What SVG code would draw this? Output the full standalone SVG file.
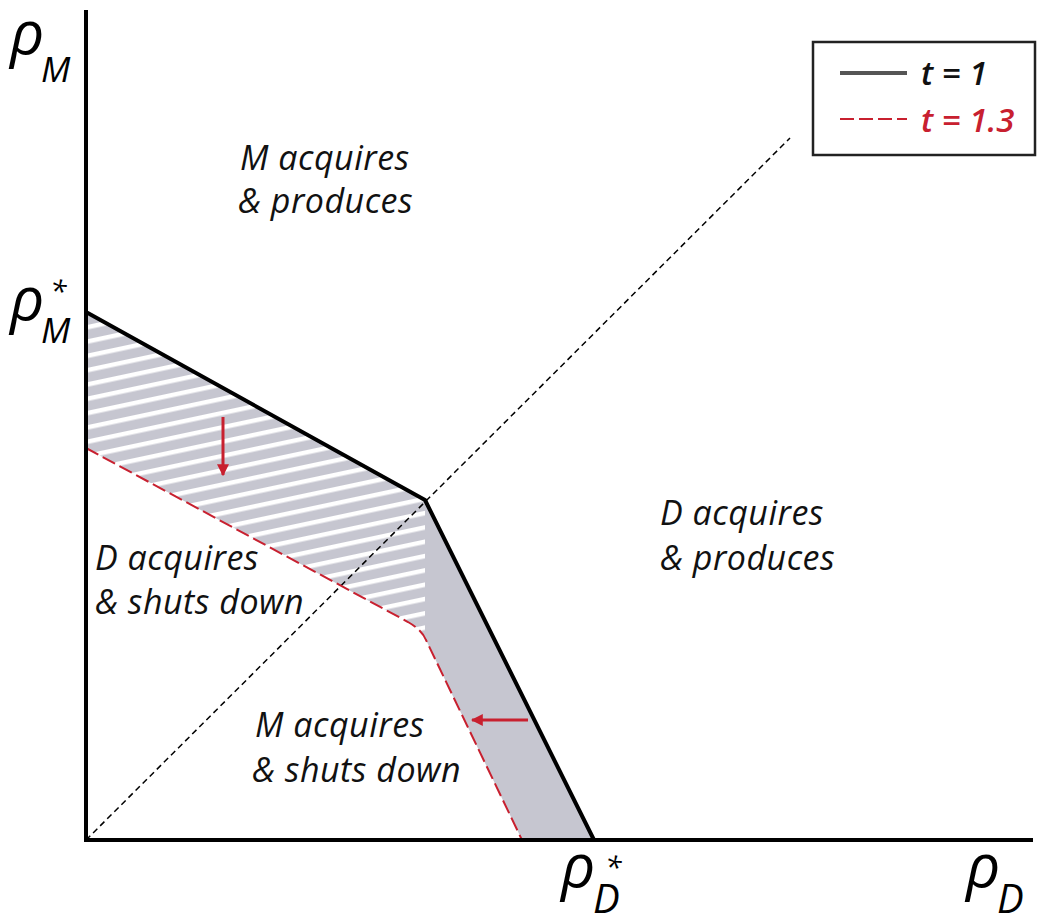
<svg xmlns="http://www.w3.org/2000/svg" width="1037" height="922" viewBox="0 0 1037 922">
<style>
.lbl{font-family:"Open Sans","Liberation Sans",sans-serif;font-style:italic;font-weight:500;font-size:34px;letter-spacing:0.5px;fill:#111}
.sym{font-family:"Open Sans","Liberation Sans",sans-serif;font-style:italic;fill:#000}
.leg{font-family:"Open Sans","Liberation Sans",sans-serif;font-style:italic;font-weight:600;font-size:33px}
.axis{stroke:#000;stroke-width:4;fill:none}
.curve1{stroke:#000;stroke-width:4;fill:none;stroke-linejoin:round}
.curve2{stroke:#c8202f;stroke-width:2;fill:none;stroke-dasharray:14 5}
.diag{stroke:#000;stroke-width:1.5;fill:none;stroke-dasharray:6 4}
.arr{stroke:#c8202f;stroke-width:3;fill:none}
</style>
<defs>
<pattern id="hatch" patternUnits="userSpaceOnUse" width="200" height="14" patternTransform="rotate(-12)">
<rect width="200" height="14" fill="#c6c6d0"/>
<rect y="0" width="200" height="4.5" fill="#ffffff"/>
</pattern>
<marker id="ah" viewBox="0 0 10 10" refX="9" refY="5" markerWidth="4" markerHeight="4" orient="auto" markerUnits="strokeWidth">
<path d="M0,0 L10,5 L0,10 z" fill="#c8202f"/>
</marker>
</defs>
<rect width="1037" height="922" fill="#fff"/>
<g id="regions">
<path d="M86,312 L425,500 L425,638 Q420,628 408,622 L86,448 Z" fill="url(#hatch)"/>
<path d="M425,500 L594,840 L522,840 L426,640 L425,638 Z" fill="#c6c6d0"/>
</g>
<g id="connectors">
<line class="diag" x1="86" y1="840" x2="790" y2="138"/>
<path class="curve2" d="M86,448 L408,622 Q422,630 426,640 L522,840"/>
<path class="curve1" d="M86,312 L425,500 L594,840"/>
<line class="arr" x1="223" y1="417" x2="223" y2="475" marker-end="url(#ah)"/>
<line class="arr" x1="528" y1="720" x2="472" y2="720" marker-end="url(#ah)"/>
<path class="axis" d="M86,10 L86,840 L1033,840"/>
</g>
<g id="axis-labels">
<text class="sym" x="10" y="54" font-size="60">ρ</text>
<text class="sym" x="41" y="82" font-size="35">M</text>
<text class="sym" x="10" y="320" font-size="60">ρ</text>
<text class="sym" x="41" y="343" font-size="35">M</text>
<text class="sym" x="50" y="302" font-size="30">*</text>
<text class="sym" x="561" y="887" font-size="60">ρ</text>
<text class="sym" x="593" y="913" font-size="40">D</text>
<text class="sym" x="605" y="878" font-size="30">*</text>
<text class="sym" x="966" y="887" font-size="60">ρ</text>
<text class="sym" x="997" y="913" font-size="40">D</text>
</g>
<g id="label-m-produces">
<text class="lbl" x="240" y="170">M acquires</text>
<text class="lbl" x="238" y="213">&amp; produces</text>
</g>
<g id="label-d-produces">
<text class="lbl" x="660" y="525">D acquires</text>
<text class="lbl" x="660" y="570">&amp; produces</text>
</g>
<g id="label-d-shuts">
<text class="lbl" x="95" y="570">D acquires</text>
<text class="lbl" x="95" y="614">&amp; shuts down</text>
</g>
<g id="label-m-shuts">
<text class="lbl" x="255" y="737">M acquires</text>
<text class="lbl" x="252" y="782">&amp; shuts down</text>
</g>
<g id="legend">
<rect x="813" y="42" width="222" height="113" fill="#fff" stroke="#222" stroke-width="2.5"/>
<line x1="840" y1="73" x2="907" y2="73" stroke="#555" stroke-width="4"/>
<text class="leg" x="921" y="85" fill="#111">t = 1</text>
<line x1="840" y1="119" x2="907" y2="119" stroke="#c8202f" stroke-width="2" stroke-dasharray="14 5"/>
<text class="leg" x="921" y="132" fill="#c8202f">t = 1.3</text>
</g>
</svg>
